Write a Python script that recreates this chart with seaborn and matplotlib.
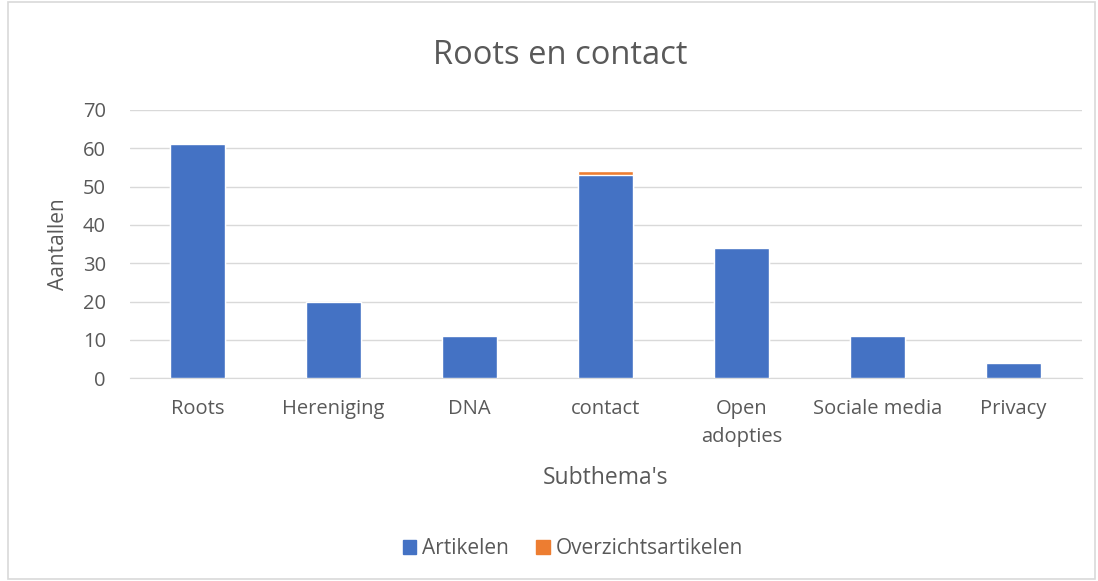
import matplotlib
matplotlib.use("Agg")
import matplotlib.pyplot as plt
import matplotlib.patches as mpatches
import seaborn as sns
import pandas as pd

# Data
categories = ["Roots", "Hereniging", "DNA", "contact", "Open\nadopties", "Sociale media", "Privacy"]
artikelen = [61, 20, 11, 53, 34, 11, 4]
overzicht = [0, 0, 0, 1, 0, 0, 0]

df = pd.DataFrame({"Subthema": categories, "Artikelen": artikelen, "Overzicht": overzicht})
df["Totaal"] = df["Artikelen"] + df["Overzicht"]

blue = "#4472C4"
orange = "#ED7D31"
grey = "#595959"

sns.set_style("white")
plt.rcParams["font.family"] = ["Open Sans", "DejaVu Sans"]

fig = plt.figure(figsize=(10.98, 5.81), dpi=100)
ax = fig.add_axes([0.118, 0.349, 0.867, 0.462])

# stacked: total (orange) behind, Artikelen (blue) in front
sns.barplot(data=df, x="Subthema", y="Totaal", color=orange, width=0.41,
            saturation=1, ax=ax, zorder=2)
sns.barplot(data=df, x="Subthema", y="Artikelen", color=blue, width=0.41,
            saturation=1, ax=ax, zorder=3)

ax.set_ylim(0, 70)
ax.set_yticks(range(0, 71, 10))
ax.yaxis.grid(True, color="#D9D9D9", linewidth=1, zorder=0)
ax.set_axisbelow(True)
for s in ["top", "right", "left"]:
    ax.spines[s].set_visible(False)
ax.spines["bottom"].set_color("#D9D9D9")
ax.tick_params(axis="both", length=0, labelsize=14.5, colors=grey)
ax.tick_params(axis="y", pad=17)
ax.tick_params(axis="x", pad=15)
for lbl in ax.get_xticklabels():
    lbl.set_linespacing(1.5)
ax.set_xlabel("Subthema's", fontsize=16.5, color=grey, labelpad=14)
ax.set_ylabel("Aantallen", fontsize=15, color=grey, labelpad=10)

fig.text(0.51, 0.905, "Roots en contact", ha="center", va="center", fontsize=23.5, color=grey)

handles = [mpatches.Patch(color=blue, label="Artikelen"),
           mpatches.Patch(color=orange, label="Overzichtsartikelen")]
leg = fig.legend(handles=handles, loc="center", bbox_to_anchor=(0.522, 0.056), ncol=2,
                 frameon=False, fontsize=15, handlelength=0.65, handleheight=0.65,
                 handletextpad=0.3, columnspacing=1.3)
for t in leg.get_texts():
    t.set_color(grey)

# chart area border
fig.patches.append(mpatches.Rectangle((0.007, 0.003), 0.99, 0.994, transform=fig.transFigure,
                                      fill=False, edgecolor="#D9D9D9", linewidth=1.2))

fig.savefig("out.png", dpi=100)
